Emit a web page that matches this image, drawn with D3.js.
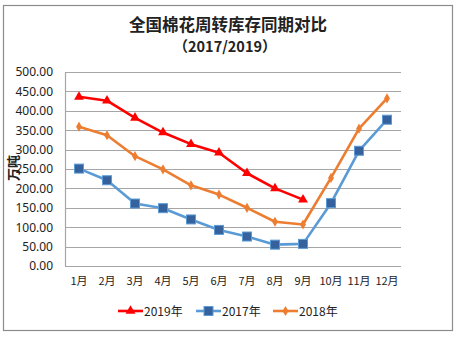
<!DOCTYPE html>
<html>
<head>
<meta charset="utf-8">
<script src="https://cdn.jsdelivr.net/npm/d3@7"></script>
<style>
  html, body { margin: 0; padding: 0; background: #fff; }
  svg { display: block; font-family: "Microsoft YaHei", "Noto Sans CJK SC", "DejaVu Sans", sans-serif; }
</style>
</head>
<body>
<svg id="chart" width="457" height="338"></svg>
<script>
// Monthly turnover inventory (万吨)
const months = ["1月","2月","3月","4月","5月","6月","7月","8月","9月","10月","11月","12月"];
const stock2019 = [436, 426, 382, 344, 314, 292, 239, 200, 171];
const stock2017 = [251, 221, 161, 149, 120, 93, 76, 55, 57, 162, 297, 377];
const stock2018 = [359, 337, 283, 249, 208, 184, 150, 114, 107, 227, 354, 432];
const yTicks = [0, 50, 100, 150, 200, 250, 300, 350, 400, 450, 500];

const series = [
  { name: "2019年", values: stock2019, color: "#ff0000", marker: "triangle" },
  { name: "2017年", values: stock2017, color: "#5b9bd5", marker: "square" },
  { name: "2018年", values: stock2018, color: "#ed7d31", marker: "diamond" }
];

const svg = d3.select("#chart");
const plot = { left: 65, right: 401, top: 72, bottom: 266 };

// outer frame
svg.append("rect")
  .attr("x", 3.5).attr("y", 5.5)
  .attr("width", 449).attr("height", 325)
  .attr("fill", "#fff").attr("stroke", "#8c8c8c").attr("stroke-width", 1.2);

// title
svg.append("text").attr("x", 228).attr("y", 31)
  .attr("text-anchor", "middle").attr("font-size", 16.5).attr("font-weight", "bold")
  .attr("fill", "#222").text("全国棉花周转库存同期对比");
svg.append("text").attr("x", 225).attr("y", 51.5)
  .attr("text-anchor", "middle").attr("font-size", 14.5).attr("font-weight", "bold")
  .attr("fill", "#222").text("（2017/2019）");

const x = d3.scaleBand().domain(months).range([plot.left, plot.right]);
const y = d3.scaleLinear().domain([0, 500]).range([plot.bottom, plot.top]);

// horizontal gridlines
svg.append("g").selectAll("line").data(yTicks).join("line")
  .attr("x1", plot.left).attr("x2", plot.right)
  .attr("y1", d => Math.round(y(d)) + 0.5).attr("y2", d => Math.round(y(d)) + 0.5)
  .attr("stroke", "#a6a6a6").attr("stroke-width", 1.2);

// y axis line
svg.append("line").attr("x1", plot.left + 0.5).attr("x2", plot.left + 0.5)
  .attr("y1", plot.top).attr("y2", plot.bottom + 0.5)
  .attr("stroke", "#a6a6a6").attr("stroke-width", 1.2);

// y axis labels
const yAxis = d3.axisLeft(y).tickValues(yTicks).tickFormat(d3.format(".2f")).tickSize(0).tickPadding(12);
const yg = svg.append("g").attr("transform", `translate(${plot.left},0)`).call(yAxis);
yg.select(".domain").remove();
yg.selectAll("text").attr("font-size", 12).attr("fill", "#222")
  .attr("font-family", "Noto Sans, DejaVu Sans, sans-serif");

// x axis labels
const xAxis = d3.axisBottom(x).tickSize(0).tickPadding(11);
const xg = svg.append("g").attr("transform", `translate(0,${plot.bottom})`).call(xAxis);
xg.select(".domain").remove();
xg.selectAll("text").attr("font-size", 11).attr("fill", "#222")
  .attr("font-family", "Microsoft YaHei, Noto Sans CJK SC, DejaVu Sans, sans-serif");

// y axis title
svg.append("text").attr("transform", "translate(18,168) rotate(-90)")
  .attr("text-anchor", "middle").attr("font-size", 13).attr("font-weight", "bold")
  .attr("fill", "#222").text("万吨");

const cx = (i) => x(months[i]) + x.bandwidth() / 2;
const line = d3.line().x((d, i) => cx(i)).y(d => y(d));

function drawMarker(g, type, px, py, color) {
  if (type === "triangle") {
    g.append("path").attr("d", d3.symbol(d3.symbolTriangle, 42)())
      .attr("transform", `translate(${px},${py})`).attr("fill", color);
  } else if (type === "square") {
    g.append("rect").attr("x", px - 4.5).attr("y", py - 4.5).attr("width", 9).attr("height", 9)
      .attr("fill", "#35629c").attr("stroke", "#5b9bd5").attr("stroke-width", 1);
  } else {
    g.append("path").attr("d", d3.symbol(d3.symbolDiamond, 30)())
      .attr("transform", `translate(${px},${py})`).attr("fill", color);
  }
}

series.forEach(s => {
  const g = svg.append("g");
  g.append("path").datum(s.values).attr("d", line)
    .attr("fill", "none").attr("stroke", s.color).attr("stroke-width", 2.6)
    .attr("stroke-linejoin", "round");
  s.values.forEach((v, i) => drawMarker(g, s.marker, cx(i), y(v), s.color));
});

// legend
const legendX = [118, 196, 273];
const ly = 311;
series.forEach((s, i) => {
  const g = svg.append("g");
  g.append("line").attr("x1", legendX[i]).attr("x2", legendX[i] + 25)
    .attr("y1", ly).attr("y2", ly).attr("stroke", s.color).attr("stroke-width", 2.6);
  drawMarker(g, s.marker, legendX[i] + 12.5, ly, s.color);
  g.append("text").attr("x", legendX[i] + 26).attr("y", ly + 4.5)
    .attr("font-size", 12).attr("fill", "#222").text(s.name);
});
</script>
</body>
</html>
